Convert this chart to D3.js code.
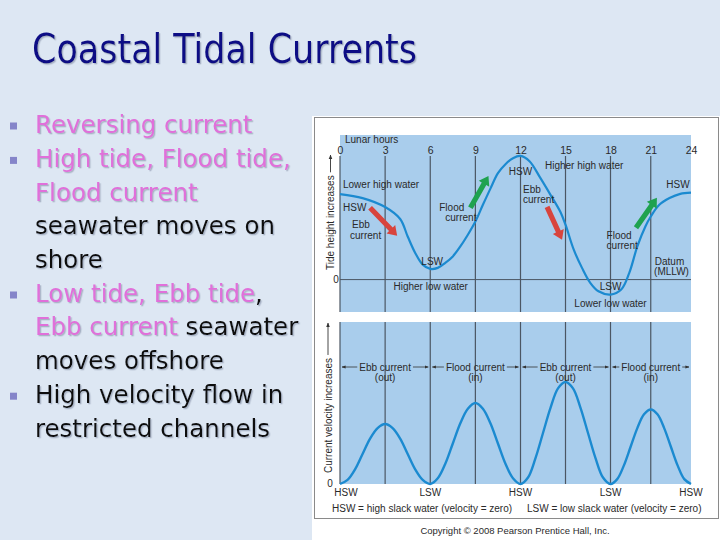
<!DOCTYPE html>
<html>
<head>
<meta charset="utf-8">
<script src="https://cdn.jsdelivr.net/npm/d3@7"></script>
<style>
  html, body { margin: 0; padding: 0; background: #dde7f3; }
  svg { display: block; }
</style>
</head>
<body>
<div id="chart"></div>
<script>
const title = 'Coastal Tidal Currents'

// each bullet: lines, each line: [text, isPink]
const bullets = [
  [[['Reversing current', 1]]],
  [[['High tide, Flood tide,', 1]], [['Flood current', 1]], [['seawater moves on', 0]], [['shore', 0]]],
  [[['Low tide, Ebb tide', 1], [',', 0]], [['Ebb current', 1], [' seawater', 0]], [['moves offshore', 0]]],
  [[['High velocity flow in', 0]], [['restricted channels', 0]]]
]

const hourTicks = [0, 3, 6, 9, 12, 15, 18, 21, 24]

// tide height (arbitrary units above datum)
const tideHours = [0, 1.5, 3, 4, 4.5, 5, 5.5, 6, 6.5, 7, 7.5, 8, 8.5, 9, 9.5, 10, 10.5, 11, 11.5, 12,
  12.6, 13.3, 14, 14.67, 15, 15.55, 16.1, 16.65, 17.2, 18, 18.8, 19.4, 20, 20.6, 21, 21.64, 22.4, 23.2, 24]
const tideHeights = [3.43, 3.27, 2.91, 2.43, 1.73, 1.07, 0.6, 0.43, 0.47, 0.67, 0.93, 1.33, 1.8, 2.33, 3.0, 3.65, 4.27, 4.63, 4.87, 4.96,
  4.75, 4.1, 3.4, 2.7, 2.2, 1.2, 0.47, -0.13, -0.47, -0.6, -0.4, 0.27, 1.33, 2.13, 2.53, 3.0, 3.27, 3.44, 3.49]

// current speed (% of panel height), every half hour
const velHours = [0, 0.5, 1, 1.5, 2, 2.5, 3, 3.5, 4, 4.5, 5, 5.5, 6, 6.5, 7, 7.5, 8, 8.5, 9, 9.5, 10, 10.5, 11, 11.5, 12,
  12.5, 13, 13.5, 14, 14.5, 15, 15.5, 16, 16.5, 17, 17.5, 18, 18.5, 19, 19.5, 20, 20.5, 21, 21.5, 22, 22.5, 23, 23.5, 24]
const velocity = [0, 2.5, 9, 18.5, 28, 34.5, 37, 34.5, 28, 18.5, 9, 2.5, 0, 3.5, 12.5, 25, 37.5, 46.5, 50, 46.5, 37.5, 25, 12.5, 3.5, 0,
  4, 16, 31.5, 47, 59, 63, 59, 47, 31.5, 16, 4, 0, 3, 11.5, 23, 34.5, 43, 46, 43, 34.5, 23, 11.5, 3, 0]

const slackLabels = [[0, 'HSW'], [6, 'LSW'], [12, 'HSW'], [18, 'LSW'], [24, 'HSW']]
const phaseLabels = [[3, 'Ebb current', '(out)'], [9, 'Flood current', '(in)'], [15, 'Ebb current', '(out)'], [21, 'Flood current', '(in)']]

// upper panel annotations [hour, height, text, anchor]
const tideNotes = [
  [0.2, 3.8, 'Lower high water', 'start'],
  [0.2, 2.88, 'HSW', 'start'],
  [0.8, 2.2, 'Ebb', 'start'],
  [0.67, 1.76, 'current', 'start'],
  [6.13, 0.72, 'LSW', 'middle'],
  [6.03, -0.28, 'Higher low water', 'middle'],
  [6.6, 2.88, 'Flood', 'start'],
  [7.0, 2.48, 'current', 'start'],
  [12.0, 4.32, 'HSW', 'middle'],
  [13.63, 4.56, 'Higher high water', 'start'],
  [12.17, 3.6, 'Ebb', 'start'],
  [12.17, 3.2, 'current', 'start'],
  [17.74, 1.76, 'Flood', 'start'],
  [17.74, 1.36, 'current', 'start'],
  [23.9, 3.8, 'HSW', 'end'],
  [21.3, 0.72, 'Datum', 'start'],
  [21.25, 0.32, '(MLLW)', 'start'],
  [18.0, -0.28, 'LSW', 'middle'],
  [18.0, -0.96, 'Lower low water', 'middle']
]

// current direction arrows [h1, y1, h2, y2, kind]
const tideArrows = [
  [2.0, 2.88, 3.8, 1.76, 'ebb'],
  [8.67, 2.88, 9.87, 4.16, 'flood'],
  [13.77, 2.92, 14.77, 1.6, 'ebb'],
  [19.9, 2.08, 21.46, 3.28, 'flood']
]

const W = 720, H = 540
const svg = d3.select('#chart').append('svg').attr('width', W).attr('height', H)

const defs = svg.append('defs')
defs.append('filter').attr('id', 'shadow').attr('x', '-5%').attr('y', '-20%').attr('width', '110%').attr('height', '140%')
  .append('feDropShadow').attr('dx', 1.3).attr('dy', 1.3).attr('stdDeviation', 0.5)
  .attr('flood-color', '#98a3b8').attr('flood-opacity', 0.75)
defs.append('marker').attr('id', 'tip').attr('viewBox', '0 0 10 10')
  .attr('refX', 9).attr('refY', 5).attr('markerWidth', 5).attr('markerHeight', 5)
  .attr('orient', 'auto-start-reverse')
  .append('path').attr('d', 'M0,1L10,5L0,9Z').attr('fill', '#333')

svg.append('rect').attr('width', W).attr('height', H).attr('fill', '#dde7f3')

// title
svg.append('text')
  .attr('x', 32).attr('y', 63)
  .attr('font-family', 'DejaVu Sans Condensed, DejaVu Sans, sans-serif')
  .attr('font-size', 40)
  .attr('fill', '#0d0d85')
  .attr('textLength', 385).attr('lengthAdjust', 'spacingAndGlyphs')
  .attr('filter', 'url(#shadow)')
  .text(title)

// bullets
const lineH = 33.4
let row = 0
bullets.forEach((b, bi) => {
  const base = 133 + lineH * row + bi * 1
  svg.append('rect').attr('x', 10).attr('y', base - 10.5).attr('width', 7).attr('height', 7)
    .attr('fill', '#8585c9')
  b.forEach((line, li) => {
    const t = svg.append('text')
      .attr('x', 35).attr('y', base + li * lineH)
      .attr('font-family', 'DejaVu Sans, sans-serif')
      .attr('font-size', 24.5)
      .attr('filter', 'url(#shadow)')
    line.forEach(([s, pink]) => {
      t.append('tspan').attr('fill', pink ? '#e070da' : '#111').text(s)
    })
  })
  row += b.length
})

// figure panel
svg.append('rect').attr('x', 312).attr('y', 116).attr('width', 408).attr('height', 424).attr('fill', '#fff')
svg.append('rect').attr('x', 314.5).attr('y', 117.5).attr('width', 404).attr('height', 401)
  .attr('fill', 'none').attr('stroke', '#8a8a8a').attr('stroke-width', 1)

const x = d3.scaleLinear().domain([0, 12, 18, 24]).range([340, 520.5, 610.5, 691])
const yTide = d3.scaleLinear().domain([-1.3, 5.8]).range([312, 135])
const yVel = d3.scaleLinear().domain([0, 100]).range([484, 322])

const blue = '#a9cdec', curveCol = '#1b8ad0', gridCol = '#4b5663', ink = '#2a2a2a'
const font = 'Liberation Sans, Arial, sans-serif'

// ---------- upper panel: tide height ----------
const tideG = svg.append('g')
tideG.append('rect')
  .attr('x', x(0)).attr('y', yTide(5.8))
  .attr('width', x(24) - x(0)).attr('height', yTide(-1.3) - yTide(5.8))
  .attr('fill', blue)

tideG.selectAll('line.grid').data(hourTicks.slice(0, -1)).join('line')
  .attr('x1', d => x(d)).attr('x2', d => x(d))
  .attr('y1', 156).attr('y2', yTide(-1.3))
  .attr('stroke', gridCol).attr('stroke-width', 1.2)

tideG.append('line')
  .attr('x1', x(0)).attr('x2', x(24)).attr('y1', yTide(0)).attr('y2', yTide(0))
  .attr('stroke', gridCol).attr('stroke-width', 1)

const axisG = tideG.append('g').attr('transform', 'translate(0,154)')
  .call(d3.axisTop(x).tickValues(hourTicks).tickSize(0).tickPadding(0))
axisG.select('.domain').remove()
axisG.selectAll('text').attr('font-family', font).attr('font-size', 10.5).attr('fill', ink)

tideG.append('text').attr('x', 345).attr('y', 142.5)
  .attr('font-family', font).attr('font-size', 10).attr('fill', ink).text('Lunar hours')

tideG.append('text').attr('x', 336).attr('y', yTide(0) + 3.5).attr('text-anchor', 'middle')
  .attr('font-family', font).attr('font-size', 10).attr('fill', ink).text('0')

tideG.append('path')
  .datum(tideHours.map((h, i) => [h, tideHeights[i]]))
  .attr('d', d3.line().x(d => x(d[0])).y(d => yTide(d[1])).curve(d3.curveCatmullRom.alpha(0.5)))
  .attr('fill', 'none').attr('stroke', curveCol).attr('stroke-width', 2.2)

tideG.selectAll('text.note').data(tideNotes).join('text')
  .attr('x', d => x(d[0])).attr('y', d => yTide(d[1]))
  .attr('dy', '0.35em').attr('text-anchor', d => d[3])
  .attr('font-family', font).attr('font-size', 10).attr('fill', ink)
  .text(d => d[2])

function fatArrow(g, x1, y1, x2, y2, color) {
  const a = Math.atan2(y2 - y1, x2 - x1)
  const len = Math.hypot(x2 - x1, y2 - y1)
  const head = 9, hw = 6, sw = 2.6
  const pts = [
    [0, -sw], [len - head, -sw], [len - head, -hw], [len, 0],
    [len - head, hw], [len - head, sw], [0, sw]
  ].map(([u, v]) => [x1 + u * Math.cos(a) - v * Math.sin(a), y1 + u * Math.sin(a) + v * Math.cos(a)])
  g.append('polygon').attr('points', pts.map(p => p.join(',')).join(' ')).attr('fill', color)
}
tideArrows.forEach(([h1, v1, h2, v2, k]) => {
  fatArrow(tideG, x(h1), yTide(v1), x(h2), yTide(v2), k === 'ebb' ? '#d8443d' : '#1fa24f')
})

// rotated y label with arrow
function yLabel(g, cx, yStart, text, tipY) {
  const t = g.append('text')
    .attr('transform', `translate(${cx},${yStart}) rotate(-90)`)
    .attr('font-family', font).attr('font-size', 10).attr('fill', ink)
    .attr('dy', '0.35em').text(text)
  const len = t.node().getComputedTextLength()
  g.append('line').attr('x1', cx).attr('x2', cx)
    .attr('y1', yStart - len - 3).attr('y2', tipY)
    .attr('stroke', '#333').attr('stroke-width', 0.9).attr('marker-end', 'url(#tip)')
}
yLabel(tideG, 330.5, 270, 'Tide height increases', 155)

// ---------- lower panel: current velocity ----------
const velG = svg.append('g')
velG.append('rect')
  .attr('x', x(0)).attr('y', yVel(100))
  .attr('width', x(24) - x(0)).attr('height', yVel(0) - yVel(100))
  .attr('fill', blue)

velG.selectAll('line.grid').data(hourTicks.slice(0, -1)).join('line')
  .attr('x1', d => x(d)).attr('x2', d => x(d))
  .attr('y1', yVel(100)).attr('y2', yVel(0))
  .attr('stroke', gridCol).attr('stroke-width', 1.2)

velG.append('path')
  .datum(velHours.map((h, i) => [h, velocity[i]]))
  .attr('d', d3.line().x(d => x(d[0])).y(d => yVel(d[1])).curve(d3.curveCatmullRom.alpha(0.5)))
  .attr('fill', 'none').attr('stroke', curveCol).attr('stroke-width', 2.4)

phaseLabels.forEach(([h, name, dir]) => {
  const ty = 367
  const t = velG.append('text').attr('x', x(h)).attr('y', ty).attr('dy', '0.35em')
    .attr('text-anchor', 'middle').attr('font-family', font).attr('font-size', 10).attr('fill', ink)
    .text(name)
  velG.append('text').attr('x', x(h)).attr('y', ty + 10).attr('dy', '0.35em')
    .attr('text-anchor', 'middle').attr('font-family', font).attr('font-size', 10).attr('fill', ink)
    .text(dir)
  const half = t.node().getComputedTextLength() / 2 + 2
  velG.append('line').attr('x1', x(h) - half).attr('x2', x(h - 3) + 2)
    .attr('y1', ty).attr('y2', ty).attr('stroke', '#333').attr('stroke-width', 0.8)
    .attr('marker-end', 'url(#tip)')
  velG.append('line').attr('x1', x(h) + half).attr('x2', x(h + 3) - 2)
    .attr('y1', ty).attr('y2', ty).attr('stroke', '#333').attr('stroke-width', 0.8)
    .attr('marker-end', 'url(#tip)')
})

velG.append('text').attr('x', 330).attr('y', yVel(0) + 2.5).attr('text-anchor', 'middle')
  .attr('font-family', font).attr('font-size', 10).attr('fill', ink).text('0')

yLabel(velG, 328, 473, 'Current velocity increases', 323)

velG.selectAll('text.slack').data(slackLabels).join('text')
  .attr('x', d => x(d[0]) + (d[0] === 0 ? 6 : 0)).attr('y', 492).attr('dy', '0.35em')
  .attr('text-anchor', 'middle').attr('font-family', font).attr('font-size', 10).attr('fill', ink)
  .text(d => d[1])

velG.append('text').attr('x', 332).attr('y', 508).attr('dy', '0.35em')
  .attr('font-family', font).attr('font-size', 10).attr('fill', ink)
  .text('HSW = high slack water (velocity = zero)')
velG.append('text').attr('x', 527).attr('y', 508).attr('dy', '0.35em')
  .attr('font-family', font).attr('font-size', 10).attr('fill', ink)
  .text('LSW = low slack water (velocity = zero)')

svg.append('text').attr('x', 515).attr('y', 531).attr('dy', '0.35em').attr('text-anchor', 'middle')
  .attr('font-family', font).attr('font-size', 9.5).attr('fill', ink)
  .text('Copyright © 2008 Pearson Prentice Hall, Inc.')
</script>
</body>
</html>
